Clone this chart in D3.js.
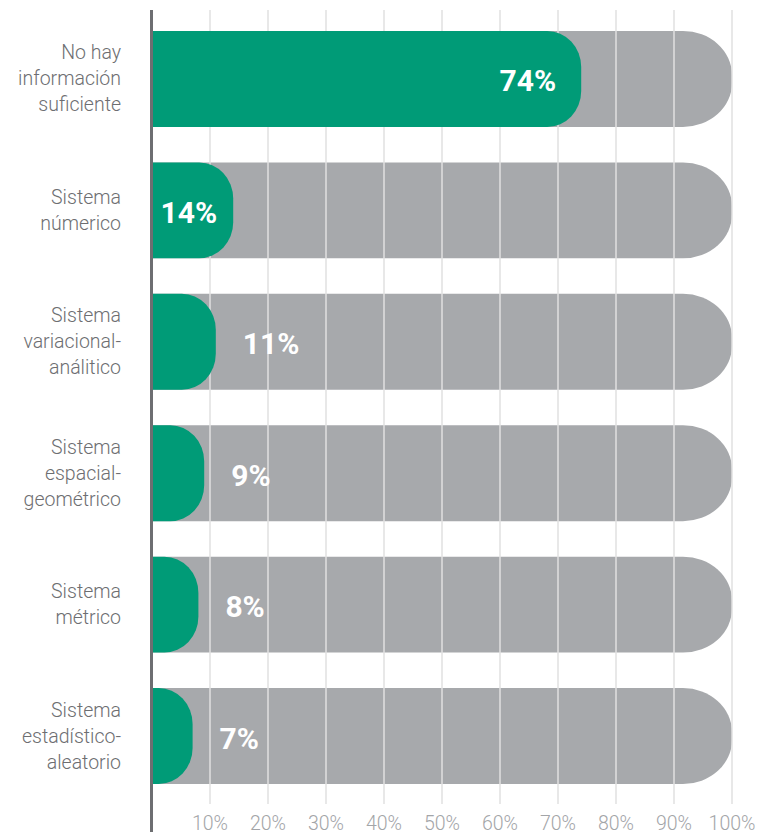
<!DOCTYPE html>
<html>
<head>
<meta charset="utf-8">
<script src="https://cdn.jsdelivr.net/npm/d3@7/dist/d3.min.js"></script>
<style>
  html, body { margin: 0; padding: 0; background: #ffffff; }
  svg { display: block; }
</style>
</head>
<body>
<script>
// Categories (each entry is the list of lines of its label)
const categories = [
  ["No hay", "información", "suficiente"],
  ["Sistema", "númerico"],
  ["Sistema", "variacional-", "análitico"],
  ["Sistema", "espacial-", "geométrico"],
  ["Sistema", "métrico"],
  ["Sistema", "estadístico-", "aleatorio"]
];
// Share of responses, percent
const values = [74, 14, 11, 9, 8, 7];
const totalValue = 100;
// Axis ticks
const tickValues = [10, 20, 30, 40, 50, 60, 70, 80, 90, 100];
const tickLabels = ["10%", "20%", "30%", "40%", "50%", "60%", "70%", "80%", "90%", "100%"];

const W = 764, H = 836;
const GREEN = "#009b77", GREY = "#a7a9ac", AXIS = "#6d6e71";
const FONT = "Roboto, 'DejaVu Sans', sans-serif";

const svg = d3.select("body").append("svg").attr("width", W).attr("height", H);

const x = d3.scaleLinear().domain([0, 100]).range([152, 732]);
const y = d3.scaleBand().domain(d3.range(values.length)).range([31, 784]).paddingInner(0.27).paddingOuter(0);

// Bar with square left side and rounded right end
function endRounded(x0, x1, y0, h, rx, ry) {
  const w = x1 - x0;
  rx = Math.min(rx, w);
  ry = Math.min(ry, h / 2);
  return `M${x0},${y0}H${x1 - rx}` +
    `A${rx},${ry} 0 0 1 ${x1},${y0 + ry}` +
    `V${y0 + h - ry}` +
    `A${rx},${ry} 0 0 1 ${x1 - rx},${y0 + h}` +
    `H${x0}Z`;
}

// Background (100%) bars
svg.append("g").selectAll("path").data(values).join("path")
  .attr("d", (d, i) => endRounded(x(0), x(totalValue), y(i), y.bandwidth(), 49, 44))
  .attr("fill", GREY);

// Gridlines
svg.append("g").selectAll("line").data(tickValues).join("line")
  .attr("x1", d => x(d)).attr("x2", d => x(d))
  .attr("y1", 10).attr("y2", 804)
  .attr("stroke", "#e1e1e1").attr("stroke-width", 1.5);

// Value bars
svg.append("g").selectAll("path").data(values).join("path")
  .attr("d", (d, i) => endRounded(x(0), x(d), y(i), y.bandwidth(), 34, 36))
  .attr("fill", GREEN);

// Value labels
svg.append("g").selectAll("text").data(values).join("text")
  .attr("x", d => d > 50 ? x(d) - 25 : d >= 14 ? x(d) - 16 : x(d) + 27)
  .attr("y", (d, i) => y(i) + y.bandwidth() / 2 + 2)
  .attr("text-anchor", d => d >= 14 ? "end" : "start")
  .attr("dominant-baseline", "central")
  .attr("font-family", FONT)
  .attr("font-weight", 700)
  .attr("font-size", 30)
  .attr("fill", "#ffffff")
  .text(d => d + "%");

// Category labels
const lh = 26;
const cat = svg.append("g").selectAll("text").data(categories).join("text")
  .attr("text-anchor", "end")
  .attr("font-family", FONT)
  .attr("font-weight", 300)
  .attr("font-size", 19.5)
  .attr("fill", AXIS);
cat.each(function(lines, i) {
  const cy = y(i) + y.bandwidth() / 2;
  d3.select(this).selectAll("tspan").data(lines).join("tspan")
    .attr("x", 121)
    .attr("y", (l, j) => cy + (j - (lines.length - 1) / 2) * lh)
    .attr("dominant-baseline", "central")
    .text(l => l);
});

// Tick labels
svg.append("g").selectAll("text").data(tickValues).join("text")
  .attr("x", d => x(d))
  .attr("y", 823)
  .attr("text-anchor", "middle")
  .attr("dominant-baseline", "central")
  .attr("font-family", FONT)
  .attr("font-weight", 300)
  .attr("font-size", 19.5)
  .attr("fill", "#a3a5a8")
  .text((d, i) => tickLabels[i]);

// Vertical axis line
svg.append("line")
  .attr("x1", 151.5).attr("x2", 151.5)
  .attr("y1", 10).attr("y2", 832)
  .attr("stroke", AXIS).attr("stroke-width", 3);
</script>
</body>
</html>
